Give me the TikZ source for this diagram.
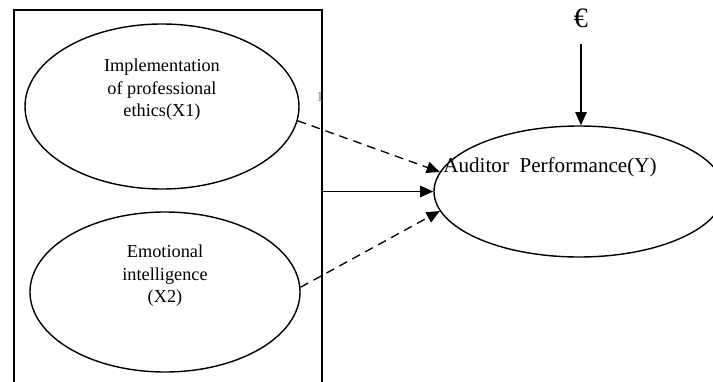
\documentclass[tikz,border=0pt]{standalone}
\usepackage{fontspec}
\setmainfont{Liberation Serif}
\usetikzlibrary{shapes,arrows.meta,calc,positioning}

\begin{document}
\begin{tikzpicture}[
	font=\fontsize{10.4}{12.75}\selectfont
	]
\tikzset{
	latent/.style = { ellipse, draw=black, line width=0.8pt, inner sep=0pt },
	caption/.style = { text centered, align=center, inner sep=0pt },
	group/.style = { rectangle, draw=black, line width=0.9pt, inner sep=0pt },
	arrow/.style = { line width=0.75pt, -{Triangle[length=7.5pt,width=6.5pt]} },
	dasharrow/.style = { arrow, dash pattern=on 5pt off 3.4pt }
}
	\useasboundingbox (0,0) rectangle (14.26,-7.62);
	\clip (0,0) rectangle (14.26,-7.62);

	% left block
	\node (block) [group, minimum width=6.16cm, minimum height=8cm, anchor=north west] at (0.26,-0.18) {};
	\node (ethics) [latent, minimum width=5.48cm, minimum height=3.3cm] at (3.24,-2.13) {};
	\node (ethicsText) [caption] at ($(ethics.center)+(0,0.33)$) {Implementation\\of professional\\ethics(X1)};
	\node (emotion) [latent, minimum width=5.4cm, minimum height=3.2cm] at (3.30,-5.84) {};
	\node (emotionText) [caption] at ($(emotion.center)+(0,0.32)$) {Emotional\\intelligence\\(X2)};
	\node (mark) [caption, font=\fontsize{8}{9}\selectfont, text=gray] at (6.4,-1.94) {1};

	% right side
	\node (perf) [latent, minimum width=5.8cm, minimum height=2.62cm] at (11.58,-3.83) {};
	\node (perfText) [caption, font=\fontsize{12}{14}\selectfont] at ($(perf.center)+(-0.58,0.49)$) {Auditor~~Performance(Y)};
	\node (euro) [caption, font=\fontsize{16}{18}\selectfont] at (11.62,-0.36) {€};

	% paths
	\coordinate (blockOut) at (block.east |- perf.west);
	\draw [dasharrow] (ethics.-6) -- (perf.172);
	\draw [arrow] (blockOut) -- (perf.west);
	\draw [dasharrow] (emotion.2) -- (perf.188.5);
	\draw [arrow] ([yshift=-0.32cm]euro.south) -- (euro.south |- perf.north);

\end{tikzpicture}
\end{document}
